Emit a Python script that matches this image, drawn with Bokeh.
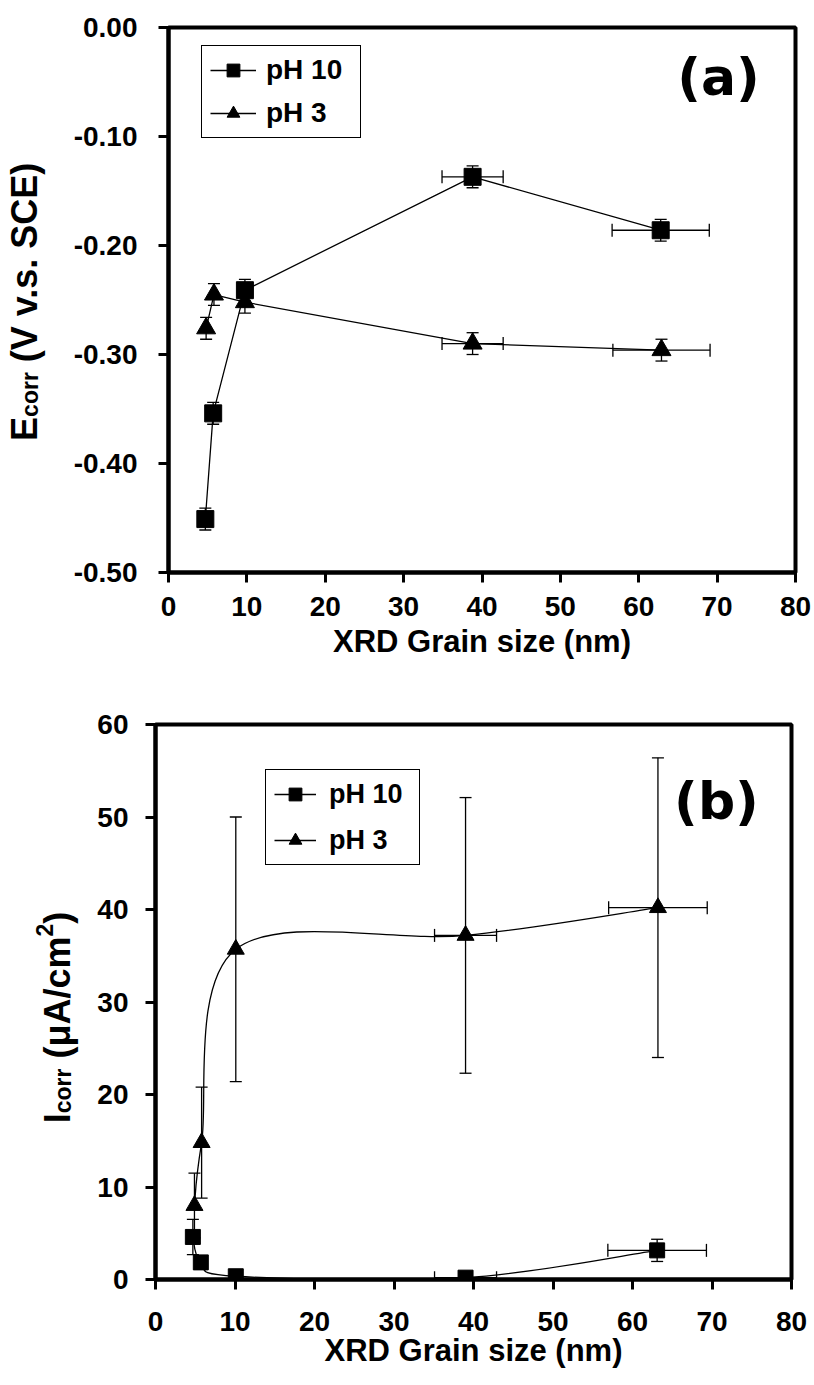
import math
from bokeh.plotting import figure
from bokeh.models import (ColumnDataSource, Whisker, TeeHead, Legend, LegendItem,
                          FixedTicker, Label)
from bokeh.core.properties import value
from bokeh.layouts import column, row
from bokeh.embed import file_html
from bokeh.resources import INLINE

# ---------------- data : panel (a) ----------------
x_ticks = [0, 10, 20, 30, 40, 50, 60, 70, 80]
x_tick_labels = ["0", "10", "20", "30", "40", "50", "60", "70", "80"]

a_ph10_size = [4.7, 5.7, 9.75, 38.8, 62.8]
a_ph10_size_err = [0, 0, 0, 3.9, 6.2]
a_ph10_ecorr = [-0.451, -0.354, -0.241, -0.137, -0.186]
a_ph10_ecorr_err = [0.010, 0.010, 0.010, 0.010, 0.010]

a_ph3_size = [4.8, 5.8, 9.75, 38.8, 62.9]
a_ph3_size_err = [0, 0, 0, 3.9, 6.2]
a_ph3_ecorr = [-0.276, -0.245, -0.252, -0.290, -0.296]
a_ph3_ecorr_err = [0.010, 0.010, 0.010, 0.010, 0.010]

a_y_ticks = [0.0, -0.1, -0.2, -0.3, -0.4, -0.5]
a_y_tick_labels = ["0.00", "-0.10", "-0.20", "-0.30", "-0.40", "-0.50"]

# ---------------- data : panel (b) ----------------
b_ph10_size = [4.7, 5.7, 10.1, 39.0, 63.1]
b_ph10_size_err = [0, 0, 0, 3.9, 6.2]
b_ph10_icorr = [4.6, 1.85, 0.35, 0.2, 3.15]
b_ph10_icorr_err = [1.9, 0.5, 0.3, 0.2, 1.2]

b_ph3_size = [4.9, 5.8, 10.1, 39.0, 63.2]
b_ph3_size_err = [0, 0, 0, 3.9, 6.2]
b_ph3_icorr = [8.0, 14.8, 35.7, 37.2, 40.2]
b_ph3_icorr_err = [3.5, 6.0, 14.3, 14.9, 16.2]

b_y_ticks = [0, 10, 20, 30, 40, 50, 60]
b_y_tick_labels = ["0", "10", "20", "30", "40", "50", "60"]

FONT = "Liberation Sans"

# Liberation Sans Bold advance widths (em/1000) for label layout
ADV = {"E": 667, "c": 556, "o": 611, "r": 389, " ": 278, "(": 333, ")": 333,
       "V": 667, "v": 556, ".": 278, "s": 556, "S": 667, "C": 722, "I": 278,
       "\u03bc": 611, "A": 722, "/": 278, "m": 889, "2": 556}


def text_w(t, size):
    return sum(ADV.get(ch, 556) for ch in t) * size / 1000.0


def style_axes(p, ylabel_standoff, xlabel_standoff, xl_standoff):
    p.xgrid.visible = False
    p.ygrid.visible = False
    p.outline_line_color = "black"
    p.outline_line_width = 4
    p.outline_line_alpha = 1
    for ax in (p.xaxis[0], p.yaxis[0]):
        ax.axis_line_width = 4
        ax.axis_line_color = "black"
        ax.major_tick_line_width = 3
        ax.major_tick_line_color = "black"
        ax.major_tick_out = 10
        ax.major_tick_in = 0
        ax.minor_tick_line_color = None
        ax.major_label_text_font = FONT
        ax.major_label_text_font_style = "bold"
        ax.major_label_text_font_size = "28px"
        ax.major_label_text_color = "black"
    p.yaxis[0].major_label_standoff = ylabel_standoff
    p.xaxis[0].major_label_standoff = xlabel_standoff
    p.xaxis[0].ticker = FixedTicker(ticks=x_ticks)
    p.xaxis[0].major_label_overrides = {t: s for t, s in zip(x_ticks, x_tick_labels)}
    p.xaxis[0].axis_label = "XRD Grain size (nm)"
    p.xaxis[0].axis_label_text_font = FONT
    p.xaxis[0].axis_label_text_font_style = "bold"
    p.xaxis[0].axis_label_text_font_size = "31px"
    p.xaxis[0].axis_label_text_color = "black"
    p.xaxis[0].axis_label_standoff = xl_standoff


def add_errors(p, xs, ys, xerr, yerr, cap_v, cap_h):
    src_v = ColumnDataSource(dict(x=xs, lo=[y - e for y, e in zip(ys, yerr)],
                                  hi=[y + e for y, e in zip(ys, yerr)]))
    p.add_layout(Whisker(source=src_v, base="x", lower="lo", upper="hi",
                         dimension="height", line_color="black", line_width=1.3,
                         upper_head=TeeHead(size=cap_v, line_width=1.3, line_color="black"),
                         lower_head=TeeHead(size=cap_v, line_width=1.3, line_color="black")))
    idx = [i for i, e in enumerate(xerr) if e > 0]
    src_h = ColumnDataSource(dict(y=[ys[i] for i in idx],
                                  lo=[xs[i] - xerr[i] for i in idx],
                                  hi=[xs[i] + xerr[i] for i in idx]))
    p.add_layout(Whisker(source=src_h, base="y", lower="lo", upper="hi",
                         dimension="width", line_color="black", line_width=1.3,
                         upper_head=TeeHead(size=cap_h, line_width=1.3, line_color="black"),
                         lower_head=TeeHead(size=cap_h, line_width=1.3, line_color="black")))


def label_figure(width, height, pieces, xc, yc):
    """A narrow, axis-less figure holding a rotated, sub/superscripted label."""
    f = figure(frame_width=width, frame_height=height, x_range=(0, width),
               y_range=(0, height), min_border=0, x_axis_type=None, y_axis_type=None,
               output_backend="svg", toolbar_location=None, title=None,
               background_fill_color="white", border_fill_color="white",
               outline_line_color=None)
    total = sum(text_w(t, s) for t, s, _ in pieces)
    y = yc - total / 2.0
    xs, ys, ts, ss = [], [], [], []
    for t, s, shift in pieces:
        body = t.lstrip()
        y += text_w(t[:len(t) - len(body)], s)
        xs.append(xc + shift)
        ys.append(y)
        ts.append(body)
        ss.append(f"{s}px")
        y += text_w(body, s)
    src = ColumnDataSource(dict(x=xs, y=ys, text=ts, size=ss))
    f.text(x="x", y="y", text="text", source=src, angle=math.pi / 2,
           text_font=value(FONT), text_font_style="bold", text_font_size="size",
           text_align="left", text_baseline="alphabetic", text_color="black")
    return f


def smooth_segments(xs, ys):
    n = len(xs)
    out = dict(x0=[], y0=[], x1=[], y1=[], cx0=[], cy0=[], cx1=[], cy1=[])
    for i in range(n - 1):
        a = i - 1 if i > 0 else i
        d = i + 2 if i + 2 < n else i + 1
        out["x0"].append(xs[i]); out["y0"].append(ys[i])
        out["x1"].append(xs[i + 1]); out["y1"].append(ys[i + 1])
        out["cx0"].append(xs[i] + (xs[i + 1] - xs[a]) / 6.0)
        out["cy0"].append(ys[i] + (ys[i + 1] - ys[a]) / 6.0)
        out["cx1"].append(xs[i + 1] - (xs[d] - xs[i]) / 6.0)
        out["cy1"].append(ys[i + 1] - (ys[d] - ys[i]) / 6.0)
    return out


def make_legend(p, items, loc, glyph_w, standoff, label_w, padding, spacing, h, fsize):
    lg = Legend(items=items, location=loc, orientation="vertical",
                border_line_color="black", border_line_width=1, border_line_alpha=1,
                background_fill_color="white", background_fill_alpha=1,
                label_text_font=FONT, label_text_font_style="bold",
                label_text_font_size=f"{fsize}px", label_text_color="black",
                glyph_width=glyph_w, glyph_height=h, label_height=h,
                label_width=label_w, label_standoff=standoff,
                padding=padding, spacing=spacing, margin=0)
    p.add_layout(lg, "center")


# ---------------- panel (a) ----------------
LA_W = 64
pa = figure(frame_width=627, frame_height=545, x_range=(0, 80), y_range=(-0.5, 0),
            min_border_left=168 - LA_W, min_border_right=19, min_border_top=27,
            min_border_bottom=128, output_backend="svg", toolbar_location=None,
            title=None, background_fill_color="white", border_fill_color="white")
style_axes(pa, 21, 14, 5)
pa.yaxis[0].ticker = FixedTicker(ticks=a_y_ticks)
pa.yaxis[0].major_label_overrides = {t: s for t, s in zip(a_y_ticks, a_y_tick_labels)}

add_errors(pa, a_ph10_size, a_ph10_ecorr, a_ph10_size_err, a_ph10_ecorr_err, 12, 13)
add_errors(pa, a_ph3_size, a_ph3_ecorr, a_ph3_size_err, a_ph3_ecorr_err, 12, 13)

la10 = pa.line(a_ph10_size, a_ph10_ecorr, line_color="black", line_width=1.3)
sa10 = pa.scatter(a_ph10_size, a_ph10_ecorr, marker="square", size=17,
                  fill_color="black", line_color="black")
la3 = pa.line(a_ph3_size, a_ph3_ecorr, line_color="black", line_width=1.3)
sa3 = pa.scatter(a_ph3_size, a_ph3_ecorr, marker="triangle", size=19,
                 fill_color="black", line_color="black")

make_legend(pa, [LegendItem(label="pH 10", renderers=[la10, sa10]),
                 LegendItem(label="pH 3", renderers=[la3, sa3])],
            (33, 434), 46, 10, 86, 8, 11, 32, 28)

pa.add_layout(Label(x=550, y=496, x_units="screen", y_units="screen", text="(a)",
                    text_align="center", text_baseline="middle", text_font="DejaVu Sans",
                    text_font_style="bold", text_font_size="52px", text_color="black"))

ya = label_figure(LA_W, 700, [("E", 36, 0), ("corr", 23, 5), (" (V v.s. SCE)", 36, 0)],
                  24, 700 - 305 + 32)

# ---------------- panel (b) ----------------
LB_W = 90
B_TOP = 24
B_H = 555
pb = figure(frame_width=636, frame_height=B_H, x_range=(0, 80), y_range=(0, 60),
            min_border_left=155 - LB_W, min_border_right=23, min_border_top=B_TOP,
            min_border_bottom=685 - B_TOP - B_H, output_backend="svg",
            toolbar_location=None, title=None, background_fill_color="white",
            border_fill_color="white")
style_axes(pb, 17, 22, -1)
pb.yaxis[0].ticker = FixedTicker(ticks=b_y_ticks)
pb.yaxis[0].major_label_overrides = {t: s for t, s in zip(b_y_ticks, b_y_tick_labels)}

add_errors(pb, b_ph10_size, b_ph10_icorr, b_ph10_size_err, b_ph10_icorr_err, 12, 13)
add_errors(pb, b_ph3_size, b_ph3_icorr, b_ph3_size_err, b_ph3_icorr_err, 12, 13)

lb10 = pb.bezier(source=ColumnDataSource(smooth_segments(b_ph10_size, b_ph10_icorr)),
                 x0="x0", y0="y0", x1="x1", y1="y1", cx0="cx0", cy0="cy0",
                 cx1="cx1", cy1="cy1", line_color="black", line_width=1.3)
sb10 = pb.scatter(b_ph10_size, b_ph10_icorr, marker="square", size=15,
                  fill_color="black", line_color="black")
lb3 = pb.bezier(source=ColumnDataSource(smooth_segments(b_ph3_size, b_ph3_icorr)),
                x0="x0", y0="y0", x1="x1", y1="y1", cx0="cx0", cy0="cy0",
                cx1="cx1", cy1="cy1", line_color="black", line_width=1.3)
sb3 = pb.scatter(b_ph3_size, b_ph3_icorr, marker="triangle", size=17,
                 fill_color="black", line_color="black")

make_legend(pb, [LegendItem(label="pH 10", renderers=[lb10, sb10]),
                 LegendItem(label="pH 3", renderers=[lb3, sb3])],
            (110, B_H + B_TOP - (865 - 700)), 42, 13, 82, 8, 14, 32, 27)

pb.add_layout(Label(x=561, y=B_H + B_TOP - (800 - 700), x_units="screen", y_units="screen",
                    text="(b)", text_align="center", text_baseline="middle",
                    text_font="DejaVu Sans", text_font_style="bold",
                    text_font_size="52px", text_color="black"))

yb = label_figure(LB_W, 685, [("I", 36, 0), ("corr", 23, 5), (" (\u03bcA/cm", 36, 0),
                              ("2", 23, -13), (")", 36, 0)],
                  57, 685 - (1017 - 700) + 24)

layout = column(row(ya, pa), row(yb, pb))
open("out.html", "w").write(file_html(layout, INLINE))
